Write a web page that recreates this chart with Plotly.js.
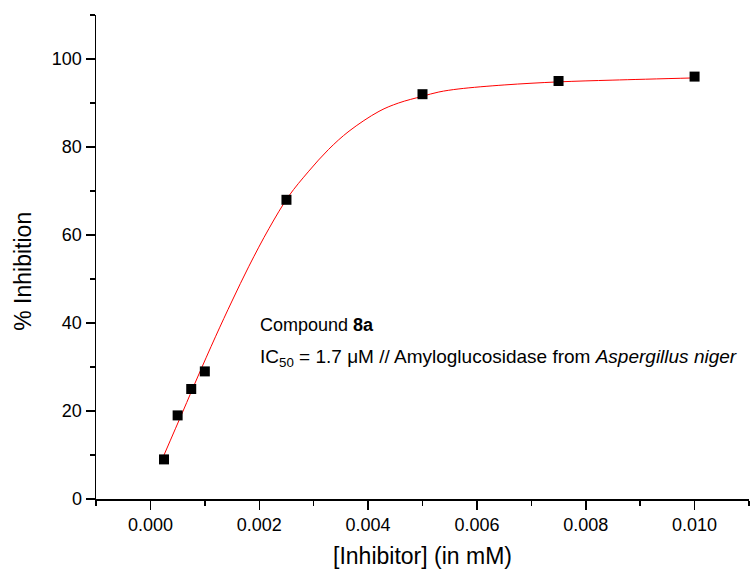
<!DOCTYPE html>
<html>
<head>
<meta charset="utf-8">
<script src="https://cdn.plot.ly/plotly-3.0.1.min.js"></script>
<style>html,body{margin:0;padding:0;background:#fff;}#chart{width:750px;height:575px;}</style>
</head>
<body>
<div id="chart"></div>
<script>
// Measured data (inhibitor concentration in mM, % inhibition)
const inhibitor = [0.00025, 0.0005, 0.00075, 0.001, 0.0025, 0.005, 0.0075, 0.01];
const inhibition = [9, 19, 25, 29, 68, 92, 95, 96];

// Fitted curve
const fitX = [0.00025, 0.0006, 0.00086, 0.0012, 0.0015, 0.00181, 0.00218, 0.00254, 0.00291, 0.00327, 0.00365, 0.0042, 0.00456, 0.00499, 0.0053, 0.00567, 0.0065, 0.0075, 0.0085, 0.01];
const fitY = [10, 20, 27.5, 37, 45, 52.9, 61.5, 68.8, 74.5, 79.4, 83.6, 88.1, 90, 91.5, 92.5, 93.2, 94.1, 94.8, 95.2, 95.7];

const xTickVals = [0, 0.002, 0.004, 0.006, 0.008, 0.010];
const xTickText = ['0.000', '0.002', '0.004', '0.006', '0.008', '0.010'];
const yTickVals = [0, 20, 40, 60, 80, 100];
const yTickText = ['0', '20', '40', '60', '80', '100'];

const font = 'Arial, "Liberation Sans", sans-serif';

const traces = [
  {
    x: fitX, y: fitY, type: 'scatter', mode: 'lines',
    line: {color: '#ff0000', width: 1, shape: 'spline', smoothing: 1},
    hoverinfo: 'skip', showlegend: false
  },
  {
    x: inhibitor, y: inhibition, type: 'scatter', mode: 'markers',
    marker: {symbol: 'square', size: 10, color: '#000000'},
    showlegend: false
  }
];

const layout = {
  width: 750, height: 575,
  margin: {l: 96, r: 1, t: 15, b: 76},
  paper_bgcolor: '#ffffff', plot_bgcolor: '#ffffff',
  font: {family: font, color: '#000000', size: 18},
  showlegend: false,
  xaxis: {
    range: [-0.001, 0.011],
    tickvals: xTickVals, ticktext: xTickText,
    ticks: 'outside', ticklen: 9, tickwidth: 1.5, tickcolor: '#000',
    showline: true, linecolor: '#000', linewidth: 1.5,
    showgrid: false, zeroline: false,
    tickfont: {family: font, size: 18, color: '#000'},
    minor: {dtick: 0.001, tick0: 0, ticks: 'outside', ticklen: 5, tickwidth: 1.5, tickcolor: '#000', showgrid: false},
    title: {text: '[Inhibitor] (in mM)', font: {family: font, size: 23, color: '#000'}, standoff: 14}
  },
  yaxis: {
    range: [0, 110],
    tickvals: yTickVals, ticktext: yTickText,
    ticks: 'outside', ticklen: 9, tickwidth: 1.5, tickcolor: '#000',
    showline: true, linecolor: '#000', linewidth: 1.5,
    showgrid: false, zeroline: false,
    tickfont: {family: font, size: 18, color: '#000'},
    minor: {dtick: 10, tick0: 0, ticks: 'outside', ticklen: 5, tickwidth: 1.5, tickcolor: '#000', showgrid: false}
  },
  annotations: [
    {
      text: '% Inhibition', xref: 'paper', yref: 'paper',
      x: -0.113, y: 0.47, xanchor: 'center', yanchor: 'middle',
      textangle: -90, showarrow: false,
      font: {family: font, size: 23, color: '#000'}
    },
    {
      text: 'Compound <b>8a</b>', xref: 'x', yref: 'y',
      x: 0.00198, y: 39.6, xanchor: 'left', yanchor: 'middle',
      showarrow: false, font: {family: font, size: 18, color: '#000'}
    },
    {
      text: 'IC<sub>50</sub> = 1.7 μM // Amyloglucosidase from <i>Aspergillus niger</i>',
      xref: 'x', yref: 'y',
      x: 0.00198, y: 32.1, xanchor: 'left', yanchor: 'middle',
      showarrow: false, font: {family: font, size: 19, color: '#000'}
    }
  ]
};

Plotly.newPlot('chart', traces, layout, {displayModeBar: false, staticPlot: true});
</script>
</body>
</html>
